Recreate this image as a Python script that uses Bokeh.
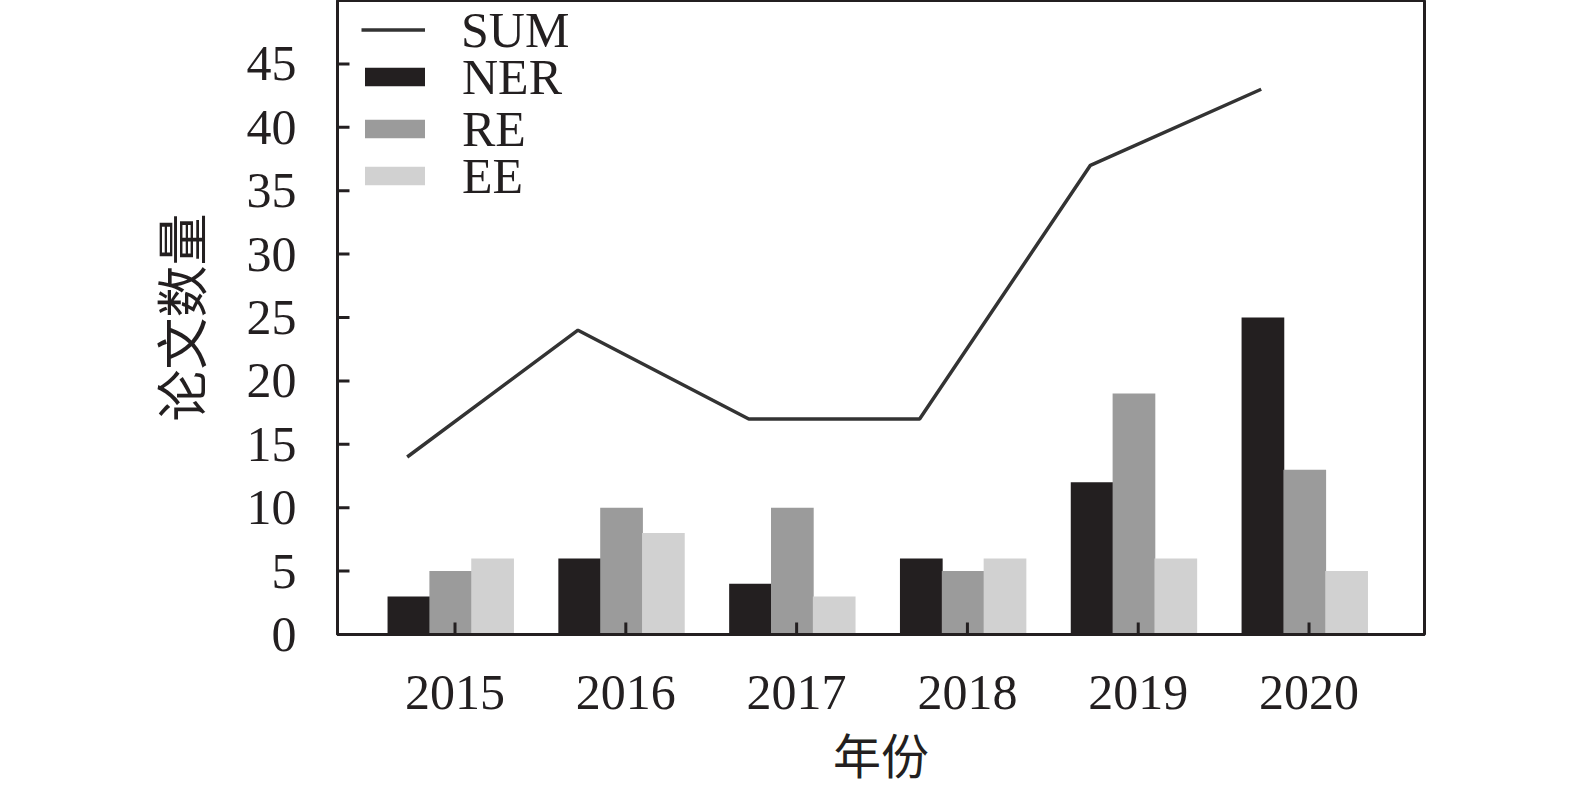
from math import pi
from bokeh.plotting import figure
from bokeh.models import Range1d, FixedTicker, Legend, LegendItem, ColumnDataSource
from bokeh.transform import dodge
from bokeh.embed import file_html
from bokeh.resources import INLINE

years = ["2015", "2016", "2017", "2018", "2019", "2020"]
sum_vals = [14, 24, 17, 17, 37, 43]
ner_vals = [3, 6, 4, 6, 12, 25]
re_vals = [5, 10, 10, 5, 19, 13]
ee_vals = [6, 8, 3, 6, 6, 5]
y_ticks = [0, 5, 10, 15, 20, 25, 30, 35, 40, 45]
x_title = "年份"
y_title = "论文数量"

xpos = list(range(len(years)))
src = ColumnDataSource(dict(x=xpos, sum=sum_vals, ner=ner_vals, re=re_vals, ee=ee_vals))

SERIF = "Liberation Serif"
CJK = "Noto Sans CJK SC"
INK = "#231f20"
X0, X1 = -0.688, 5.676

p = figure(width=1559, height=790, output_backend="svg", toolbar_location=None,
           x_range=Range1d(X0, X1), y_range=Range1d(0, 50),
           min_border_left=337, min_border_right=135, min_border_top=0, min_border_bottom=150)

bw = 0.25
r_ner = p.vbar(x=dodge("x", -0.27), top="ner", width=bw, source=src, fill_color=INK, line_color=None)
r_re = p.vbar(x=dodge("x", -0.025), top="re", width=bw, source=src, fill_color="#9b9b9b", line_color=None)
r_ee = p.vbar(x=dodge("x", 0.22), top="ee", width=bw, source=src, fill_color="#d1d1d1", line_color=None)
r_sum = p.line(x=dodge("x", -0.28), y="sum", source=src, line_color="#333333", line_width=3.5)

# inward tick marks (half of each dash is clipped by the frame)
p.scatter(x=xpos, y=[0] * len(xpos), marker="dash", angle=pi / 2, size=24,
          line_color=INK, line_width=3)
p.scatter(x=[X0] * len(y_ticks), y=y_ticks, marker="dash", size=24,
          line_color=INK, line_width=3)

p.xgrid.visible = False
p.ygrid.visible = False
p.outline_line_color = INK
p.outline_line_width = 3
p.background_fill_color = "white"
p.border_fill_color = "white"

p.xaxis.ticker = FixedTicker(ticks=xpos)
p.xaxis.major_label_overrides = {i: y for i, y in enumerate(years)}
p.yaxis.ticker = FixedTicker(ticks=y_ticks)

for ax in (p.xaxis[0], p.yaxis[0]):
    ax.axis_line_color = INK
    ax.axis_line_width = 3
    ax.major_tick_line_color = None
    ax.major_tick_in = 0
    ax.major_tick_out = 0
    ax.minor_tick_line_color = None
    ax.major_label_text_font = SERIF
    ax.major_label_text_font_size = "50px"
    ax.major_label_text_color = INK
    ax.axis_label_text_font = CJK
    ax.axis_label_text_font_style = "normal"
    ax.axis_label_text_color = INK

p.xaxis.axis_label = x_title
p.yaxis.axis_label = y_title
p.xaxis.axis_label_text_font_size = "48px"
p.yaxis.axis_label_text_font_size = "52px"
p.xaxis.major_label_standoff = 41
p.yaxis.major_label_standoff = 41
p.xaxis.axis_label_standoff = 6
p.yaxis.axis_label_standoff = 27

FH = 636      # frame height in px
ITEM_H = 57   # legend row height in px


def add_legend(label, renderer, center, glyph_w, x_off, standoff):
    lg = Legend(items=[LegendItem(label=label, renderers=[renderer])],
                location=(x_off, FH - center - ITEM_H / 2))
    lg.label_text_font = SERIF
    lg.label_text_font_size = "50px"
    lg.label_text_color = INK
    lg.glyph_width = glyph_w
    lg.glyph_height = 23
    lg.label_standoff = standoff
    lg.spacing = 0
    lg.padding = 0
    lg.margin = 0
    lg.border_line_alpha = 0
    lg.background_fill_alpha = 0
    p.add_layout(lg)


add_legend("SUM", r_sum, 32, 64, 24, 36)
add_legend("NER", r_ner, 79, 75, 20, 30)
add_legend("RE", r_re, 131, 75, 20, 30)
add_legend("EE", r_ee, 178, 75, 20, 30)

open("out.html", "w").write(file_html(p, INLINE))
